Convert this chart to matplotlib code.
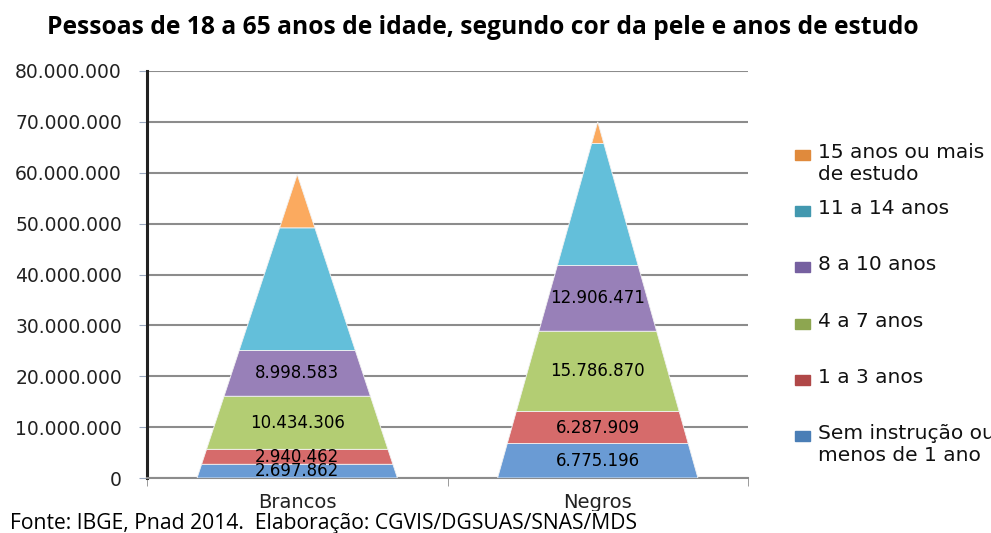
import matplotlib.pyplot as plt
from matplotlib.patches import Rectangle

plt.rcParams['font.family'] = ['DejaVu Sans']

# Data (Pnad 2014)
grupos = ['Brancos', 'Negros']
faixas = ['Sem instrução ou\nmenos de 1 ano', '1 a 3 anos', '4 a 7 anos',
          '8 a 10 anos', '11 a 14 anos', '15 anos ou mais\nde estudo']
brancos = [2697862, 2940462, 10434306, 8998583, 24100000, 10500000]
negros = [6775196, 6287909, 15786870, 12906471, 24000000, 4250000]
mostrar_rotulo = [True, True, True, True, False, False]

cores = ['#6A9BD4', '#D66B6B', '#B3CD73', '#9880B8', '#63BFDA', '#FBAA5F']
cores_legenda = ['#4A7EB6', '#B04848', '#8DA650', '#7660A0', '#4298AF', '#E08A3C']

fig = plt.figure(figsize=(9.91, 5.33), dpi=100)
ax = fig.add_axes([147 / 991, 1 - 478 / 533, 601 / 991, 407 / 533])

meia_base = 1 / 3
for i, serie in enumerate([brancos, negros]):
    total = sum(serie)
    cx = i + 0.5
    base = 0
    for k, v in enumerate(serie):
        topo = base + v
        w0 = meia_base * (1 - base / total)
        w1 = meia_base * (1 - topo / total)
        ax.fill([cx - w0, cx + w0, cx + w1, cx - w1], [base, base, topo, topo],
                color=cores[k], lw=0.6, ec='#f2f2f2', zorder=3)
        if mostrar_rotulo[k]:
            txt = format(v, ',').replace(',', '.')
            ax.text(cx, base + v / 2, txt, ha='center', va='center',
                    fontsize=12, color='black', zorder=4)
        base = topo

ax.set_xlim(0, 2)
ax.set_ylim(0, 80000000)
ax.set_yticks(range(0, 80000001, 10000000))
ax.set_yticklabels([format(t, ',').replace(',', '.') for t in range(0, 80000001, 10000000)],
                   fontsize=13.5, color='#222222')
ax.yaxis.grid(True, color='#8c8c8c', lw=1.5, zorder=0)
ax.set_axisbelow(True)
ax.tick_params(axis='y', length=6, color='#9aa8c0', pad=12)

ax.set_xticks([0.5, 1.5])
ax.set_xticklabels(grupos, fontsize=14, color='#222222')
ax.set_xticks([0, 1, 2], minor=True)
ax.tick_params(axis='x', which='major', length=0, pad=11)
ax.tick_params(axis='x', which='minor', length=6, color='#8c8c8c')

ax.spines['top'].set_visible(False)
ax.spines['right'].set_visible(False)
ax.spines['left'].set_color('#222222')
ax.spines['left'].set_linewidth(2.2)
ax.spines['bottom'].set_color('#8c8c8c')
ax.spines['bottom'].set_linewidth(1.5)

# legend drawn by hand, top entry first
legenda_y = [436, 380, 324, 267, 211, 155]
for k in range(len(faixas)):
    y = legenda_y[k]
    fig.patches.append(Rectangle((795 / 991, 1 - (y + 5) / 533), 15 / 991, 10 / 533,
                                 transform=fig.transFigure, color=cores_legenda[k]))
    fig.text(818 / 991, 1 - (y - 12) / 533, faixas[k], ha='left', va='top',
             fontsize=14.5, color='#111111', linespacing=1.2)

fig.text(483 / 991, 1 - 27 / 533,
         'Pessoas de 18 a 65 anos de idade, segundo cor da pele e anos de estudo',
         ha='center', va='center', fontsize=17.7, fontweight='bold', family='Open Sans')

fig.text(10 / 991, 1 - 523 / 533,
         'Fonte: IBGE, Pnad 2014.  Elaboração: CGVIS/DGSUAS/SNAS/MDS',
         ha='left', va='center', fontsize=15.2, family='Open Sans',
         bbox=dict(fc='white', ec='none', pad=1))

fig.savefig('out.png', dpi=100)
